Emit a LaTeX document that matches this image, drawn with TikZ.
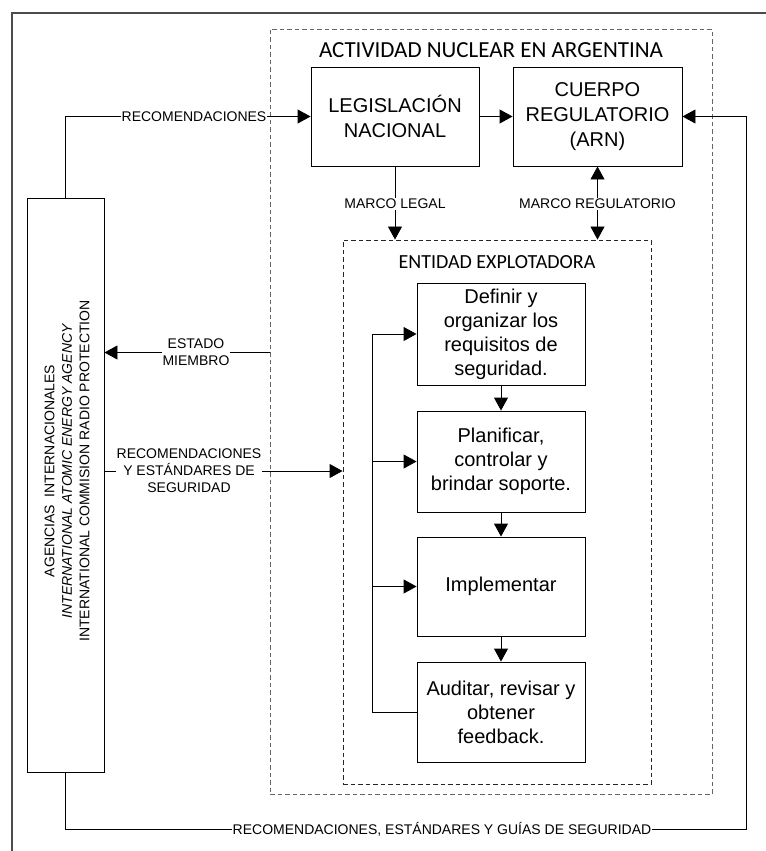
\documentclass[tikz,border=0pt]{standalone}
\usepackage{fontspec}
\setmainfont{Liberation Sans}
\newfontfamily\calib{Carlito}
\usetikzlibrary{arrows.meta}

% text sizes (1 unit = 1bp)
\newcommand{\smalltxt}{\fontsize{14bp}{17bp}\selectfont}
\newcommand{\boxtxt}{\fontsize{20bp}{24bp}\selectfont}
\newcommand{\headtxt}{\fontsize{20bp}{25bp}\selectfont}

\tikzset{
  conn/.style={line width=0.9bp, black},
  arr/.style={conn, -{Triangle[length=13bp,width=14bp]}},
  dbl/.style={conn, {Triangle[length=13bp,width=14bp]}-{Triangle[length=13bp,width=14bp]}},
  box/.style={draw, line width=0.9bp, align=center, inner sep=0pt},
  zone/.style={draw, line width=0.9bp, dash pattern=on 4.5bp off 3bp, inner sep=0pt},
  lbl/.style={fill=white, inner sep=1bp, font=\smalltxt, align=center},
}

\begin{document}
\begin{tikzpicture}[x=1bp, y=-1bp]
\useasboundingbox (0,0) rectangle (766,851);
\fill[white] (0,0) rectangle (766,851);

% page frame
\draw[line width=1.4bp, black!70] (12,851) -- (12,13) -- (766,13);

% dashed zones
\node[zone, draw=black!60, minimum width=442bp, minimum height=765bp] (act) at (491,411.5) {};
\node[zone, draw=black!85, minimum width=308bp, minimum height=544bp] (ent) at (497,512) {};
\node[font={\calib\fontsize{23bp}{27bp}\selectfont}] (acttitle) at (491,50) {ACTIVIDAD NUCLEAR EN ARGENTINA};
\node[font={\calib\fontsize{20bp}{24bp}\selectfont}] (enttitle) at (497,262) {ENTIDAD EXPLOTADORA};

% main blocks
\node[box, font=\headtxt, minimum width=168bp, minimum height=99bp] (leg) at (395,116.5) {LEGISLACIÓN\\NACIONAL};
\node[box, font=\headtxt, minimum width=169bp, minimum height=99bp] (arn) at (597.5,116.5) {CUERPO\\REGULATORIO\\(ARN)};
\node[box, minimum width=77bp, minimum height=574bp] (ag) at (65.5,485) {};
\node[rotate=90, align=center, font={\fontsize{14bp}{17.5bp}\selectfont}] (agtxt) at (67,471)
  {AGENCIAS\ \ INTERNACIONALES\\\textit{INTERNATIONAL ATOMIC ENERGY AGENCY}\\INTERNATIONAL COMMISION RADIO PROTECTION};

% process steps
\node[box, font=\boxtxt, minimum width=168bp, minimum height=102bp] (s1) at (501,334) {Definir y\\organizar los\\requisitos de\\seguridad.};
\node[box, font=\boxtxt, minimum width=168bp, minimum height=101bp] (s2) at (501,461.5) {Planificar,\\controlar y\\brindar soporte.};
\node[box, font=\boxtxt, minimum width=168bp, minimum height=99bp] (s3) at (501,586.5) {Implementar};
\node[box, font=\boxtxt, minimum width=168bp, minimum height=100bp] (s4) at (501,712) {Auditar, revisar y\\obtener\\feedback.};

% connectors between blocks
\draw[arr] (ag.north) |- (leg.west);
\draw[arr] (leg.east) -- (arn.west);
\coordinate (fb1) at (65.5,829);
\coordinate (fb2) at (746,829);
\draw[arr] (ag.south) -- (fb1) -- (fb2) |- (arn.east);
\draw[arr] (leg.south) -- (leg.south |- ent.north);
\draw[dbl] (arn.south) -- (arn.south |- ent.north);
\coordinate (em) at (196,352.5);
\draw[arr] (act.west |- em) -- (ag.east |- em);
\coordinate (rye) at (189,471);
\draw[arr] (ag.east |- rye) -- (ent.west |- rye);

% steps sequence and feedback loop
\draw[arr] (s1.south) -- (s2.north);
\draw[arr] (s2.south) -- (s3.north);
\draw[arr] (s3.south) -- (s4.north);
\coordinate (lp) at (372,712);
\draw[arr] (s4.west) -- (lp) |- (s1.west);
\draw[arr] (lp |- s2.west) -- (s2.west);
\draw[arr] (lp |- s3.west) -- (s3.west);

% connector labels
\node[lbl] (l1) at (194,116.5) {RECOMENDACIONES};
\node[lbl] (l2) at (395,204) {MARCO LEGAL};
\node[lbl] (l3) at (597.5,204) {MARCO REGULATORIO};
\node[lbl] (l4) at (em) {ESTADO\\MIEMBRO};
\node[lbl] (l5) at (rye) {RECOMENDACIONES\\Y ESTÁNDARES DE\\SEGURIDAD};
\node[lbl] (l6) at (442,829) {RECOMENDACIONES, ESTÁNDARES Y GUÍAS DE SEGURIDAD};
\end{tikzpicture}
\end{document}
